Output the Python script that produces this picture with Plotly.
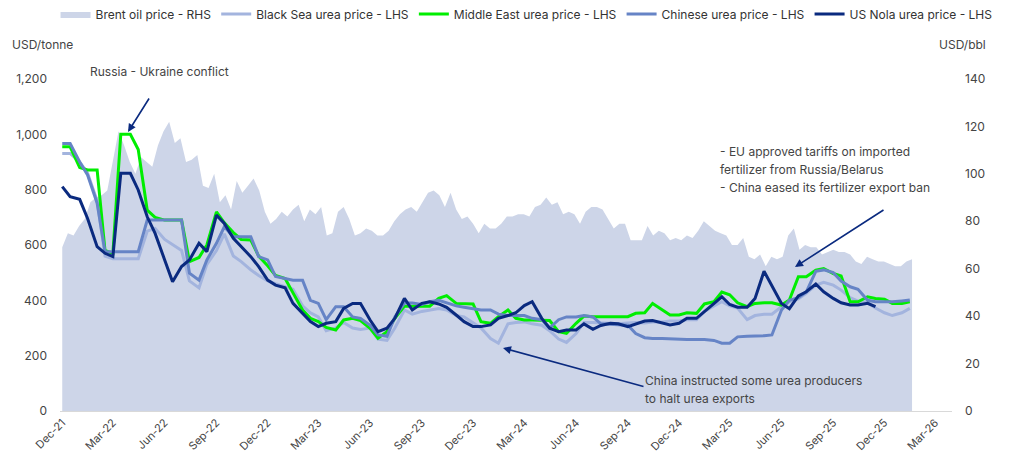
import pandas as pd
import plotly.graph_objects as go

# semi-monthly urea prices (USD/tonne), Dec-21 .. mid Jan-26
urea_dates = pd.date_range("2021-12-01", "2026-01-15", freq="SMS")

black_sea = [
    931, 931, 900, 860, 760, 560, 550, 550, 550, 550,
    650, 660, 620, 600, 580, 470, 445, 530, 580, 640,
    560, 540, 510, 490, 470, 460, 450, 440, 380, 355,
    340, 290, 300, 320, 300, 295, 300, 260, 255, 300,
    365, 350, 360, 365, 370, 365, 345, 340, 320, 300,
    262, 245, 315, 320, 322, 315, 310, 290, 260, 248,
    280, 320, 320, 318, 318, 315, 318, 320, 318, 322,
    322, 325, 325, 330, 330, 360, 380, 395, 380, 372,
    330, 345, 350, 350, 377, 395, 405, 425, 455, 465,
    455, 437, 410, 397, 392, 372, 355, 345, 355, 371,
]

middle_east = [
    955, 955, 880, 871, 871, 580, 570, 1000, 1000, 945,
    726, 700, 690, 690, 690, 540, 555, 600, 720, 680,
    645, 620, 618, 560, 525, 490, 479, 427, 365, 335,
    323, 302, 293, 329, 335, 327, 299, 263, 287, 335,
    379, 379, 379, 379, 407, 417, 389, 389, 387, 323,
    317, 341, 365, 335, 329, 329, 329, 327, 287, 281,
    317, 343, 341, 341, 341, 341, 341, 353, 355, 389,
    365, 347, 347, 355, 353, 387, 395, 430, 420, 391,
    377, 389, 391, 391, 383, 401, 485, 485, 509, 515,
    497, 488, 395, 395, 413, 407, 404, 389, 389, 395,
]

chinese = [
    967, 967, 900, 853, 751, 576, 576, 576, 576, 576,
    690, 690, 690, 690, 690, 498, 473, 546, 606, 666,
    630, 630, 630, 558, 546, 486, 479, 473, 473, 400,
    389, 330, 377, 377, 340, 335, 310, 275, 270, 340,
    390, 390, 385, 395, 400, 390, 380, 375, 370, 365,
    365, 350, 345, 345, 345, 335, 330, 300, 330, 340,
    340, 345, 340, 315, 312, 312, 310, 280, 265, 262,
    262, 260, 260, 258, 258, 258, 255, 245, 245, 268,
    270, 270, 272, 275, 365, 400, 410, 430, 505, 510,
    500, 470, 449, 440, 400, 395, 395, 395, 398, 401,
]

us_nola = [
    811, 775, 765, 696, 594, 570, 558, 859, 859, 799,
    702, 642, 546, 467, 522, 546, 606, 576, 708, 678,
    624, 594, 558, 522, 473, 455, 445, 389, 353, 323,
    305, 317, 323, 371, 389, 389, 329, 287, 299, 335,
    407, 365, 389, 395, 387, 375, 347, 323, 305, 305,
    311, 335, 345, 355, 381, 395, 335, 299, 287, 293,
    293, 315, 295, 309, 317, 315, 305, 315, 325, 327,
    319, 311, 317, 335, 335, 359, 389, 413, 385, 375,
    375, 407, 505, 450, 389, 370, 416, 431, 459, 431,
    407, 391, 383, 383, 389, 377,
]

# Brent oil (USD/bbl), every 10 days from 1 Dec 2021
brent = [
    69, 75, 74, 78, 81, 88, 90, 91, 93, 105,
    118, 112, 105, 100, 107, 105, 103, 112, 118, 122,
    113, 115, 105, 106, 108, 95, 94, 100, 88, 91,
    85, 97, 92, 95, 98, 93, 84, 79, 81, 84,
    82, 85, 87, 80, 85, 83, 86, 74, 75, 84,
    86, 81, 74, 75, 77, 76, 74, 74, 76, 80,
    83, 85, 86, 84, 88, 92, 93, 91, 86, 92,
    85, 81, 82, 79, 75, 79, 77, 77, 79, 82,
    82, 83, 83, 82, 86, 87, 90, 87, 88, 83,
    84, 83, 79, 84, 86, 86, 85, 81, 77, 79,
    79, 72, 72, 72, 78, 74, 76, 75, 72, 73,
    72, 74, 73, 76, 80, 78, 76, 75, 74, 70,
    70, 73, 65, 64, 66, 61, 65, 64, 65, 74,
    77, 68, 70, 69, 69, 66, 67, 68, 67, 67,
    66, 63, 62, 65, 64, 63, 63, 62, 61, 61,
    63, 64,
]
brent_dates = pd.date_range("2021-12-01", periods=len(brent), freq="10D")

tick_dates = pd.date_range("2021-12-01", "2026-03-01", freq="3MS")

FONT = "Inter, Lato, sans-serif"
TXT = "#444444"
NAVY = "#0a2a7f"

fig = go.Figure()

fig.add_trace(go.Scatter(
    x=brent_dates, y=brent, name="Brent oil price - RHS",
    mode="lines", fill="tozeroy", fillcolor="#cdd5e8",
    line=dict(width=0, color="#cdd5e8"), yaxis="y",
))

series = [
    ("Black Sea urea price - LHS", black_sea, "#a3b4de"),
    ("Middle East urea price - LHS", middle_east, "#00ee00"),
    ("Chinese urea price - LHS", chinese, "#6684c6"),
    ("US Nola urea price - LHS", us_nola, NAVY),
]
for name, vals, col in series:
    fig.add_trace(go.Scatter(
        x=urea_dates[:len(vals)], y=vals, name=name, mode="lines",
        line=dict(color=col, width=3), yaxis="y2",
    ))

fig.update_layout(
    width=1013, height=464,
    margin=dict(l=60, r=61, t=79, b=53, autoexpand=False),
    paper_bgcolor="white", plot_bgcolor="white",
    font=dict(family=FONT, size=12, color=TXT),
    showlegend=True,
    legend=dict(orientation="h", x=-0.005, xanchor="left",
                y=1 + 65 / 332, yanchor="middle",
                font=dict(size=12, color="#333333"), itemwidth=30,
                bgcolor="rgba(0,0,0,0)"),
    xaxis=dict(
        type="date", range=["2021-11-27", "2026-03-31"], automargin=False,
        tickvals=tick_dates, tickformat="%b-%y", tickangle=-45,
        showgrid=False, showline=True, linecolor="#d9d9d9", linewidth=1,
        ticks="", tickfont=dict(size=11, color=TXT),
    ),
    yaxis=dict(
        side="right", range=[0, 140], dtick=20, showgrid=False, automargin=False,
        zeroline=False, ticks="", ticklabelstandoff=12,
        tickfont=dict(size=12, color=TXT),
    ),
    yaxis2=dict(
        side="left", overlaying="y", range=[0, 1200], dtick=200, automargin=False,
        tickformat=",", showgrid=False, zeroline=False, ticks="",
        ticklabelstandoff=12, tickfont=dict(size=12, color=TXT),
    ),
)

def px_x(p):
    return (p - 60) / 892

def px_y(p):
    return (411 - p) / 332

notes = [
    ("USD/tonne", 10, 44, "left"),
    ("USD/bbl", 988, 44, "right"),
    ("Russia - Ukraine conflict", 88, 72, "left"),
    ("- EU approved tariffs on imported", 718, 151, "left"),
    ("fertilizer from Russia/Belarus", 718, 169, "left"),
    ("- China eased its fertilizer export ban", 718, 187, "left"),
    ("China instructed some urea producers", 643, 380, "left"),
    ("to halt urea exports", 643, 398, "left"),
]
for txt, x, y, anch in notes:
    fig.add_annotation(
        text=txt, xref="paper", yref="paper", x=px_x(x), y=px_y(y),
        xanchor=anch, yanchor="middle", showarrow=False,
        font=dict(size=12, color=TXT, family=FONT),
    )

# arrows: tip position, tail offset in pixels
arrows = [(128, 132, 22, -35), (795, 267, 90, -58), (503, 348, 142, 39)]
for tx, ty, ax, ay in arrows:
    fig.add_annotation(
        text="", xref="paper", yref="paper", x=px_x(tx), y=px_y(ty),
        ax=ax, ay=ay, showarrow=True, arrowhead=2, arrowsize=1,
        arrowwidth=1.6, arrowcolor=NAVY,
    )

fig.write_html("out.html", config={"displayModeBar": False},
               post_script="document.body.style.margin='0px';")
